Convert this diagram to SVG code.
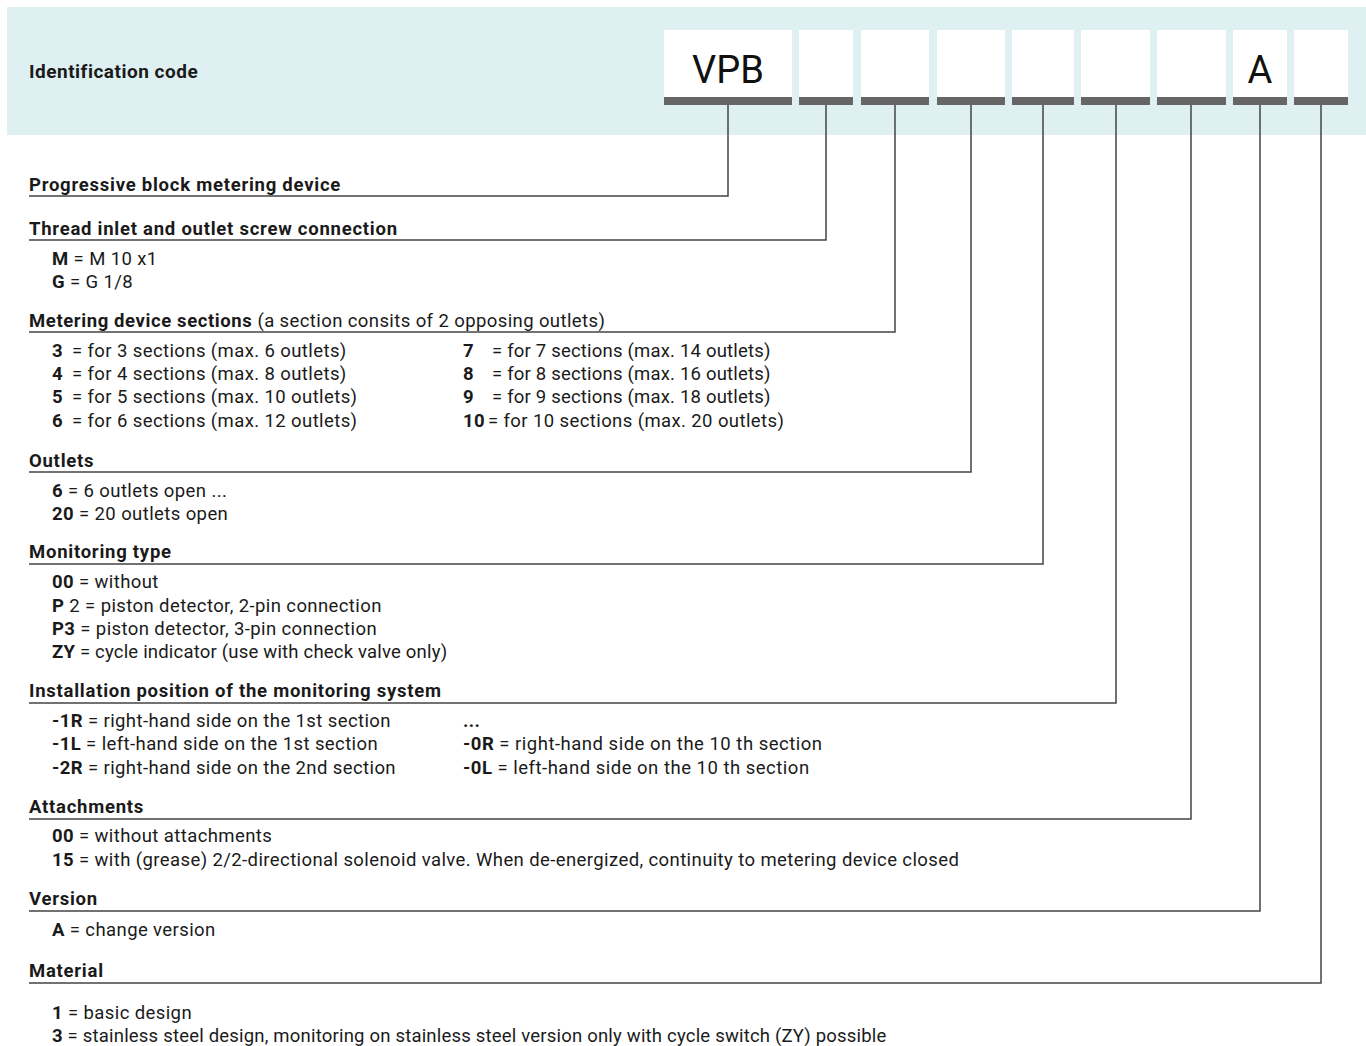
<svg xmlns="http://www.w3.org/2000/svg" width="1366" height="1046" viewBox="0 0 1366 1046">
<style>
text{font-family:Roboto,"Liberation Sans",sans-serif;fill:#1a1a1a;font-size:18.5px;letter-spacing:0.4px}
.h{font-weight:bold;letter-spacing:0.75px}
.b{font-weight:bold}
.n{letter-spacing:0.2px}
.box{fill:#fff}
.bar{fill:#666}
.con{fill:none;stroke:#444;stroke-width:1.5}
.code{font-size:38px;text-anchor:middle;fill:#111;letter-spacing:0}
</style>
<rect x="7" y="7" width="1359" height="128" fill="#dff0f2"/>
<text x="29" y="78" class="h" style="font-size:19px;letter-spacing:0.5px">Identification code</text>
<g id="box-vpb"><rect class="box" x="664" y="30" width="128" height="67"/><rect class="bar" x="664" y="97" width="128" height="8"/><text class="code" x="728" y="83">VPB</text></g>
<g id="box-2"><rect class="box" x="799" y="30" width="54" height="67"/><rect class="bar" x="799" y="97" width="54" height="8"/></g>
<g id="box-3"><rect class="box" x="861" y="30" width="68" height="67"/><rect class="bar" x="861" y="97" width="68" height="8"/></g>
<g id="box-4"><rect class="box" x="937" y="30" width="68" height="67"/><rect class="bar" x="937" y="97" width="68" height="8"/></g>
<g id="box-5"><rect class="box" x="1012" y="30" width="62" height="67"/><rect class="bar" x="1012" y="97" width="62" height="8"/></g>
<g id="box-6"><rect class="box" x="1081" y="30" width="69" height="67"/><rect class="bar" x="1081" y="97" width="69" height="8"/></g>
<g id="box-7"><rect class="box" x="1157" y="30" width="69" height="67"/><rect class="bar" x="1157" y="97" width="69" height="8"/></g>
<g id="box-a"><rect class="box" x="1233" y="30" width="54" height="67"/><rect class="bar" x="1233" y="97" width="54" height="8"/><text class="code" x="1260" y="83">A</text></g>
<g id="box-9"><rect class="box" x="1294" y="30" width="54" height="67"/><rect class="bar" x="1294" y="97" width="54" height="8"/></g>
<g id="connectors">
<path class="con" d="M728 105V196H29"/>
<path class="con" d="M826 105V240H29"/>
<path class="con" d="M895 105V332H29"/>
<path class="con" d="M971 105V472H29"/>
<path class="con" d="M1043 105V564H29"/>
<path class="con" d="M1116 105V703H29"/>
<path class="con" d="M1191 105V819H29"/>
<path class="con" d="M1260 105V911H29"/>
<path class="con" d="M1321 105V983H29"/>
</g>
<g id="sec-progressive"><text class="h" x="29" y="191">Progressive block metering device</text></g>
<g id="sec-thread">
<text class="h" x="29" y="235">Thread inlet and outlet screw connection</text>
<text x="52" y="265"><tspan class="b">M</tspan> = M 10 x1</text>
<text x="52" y="288"><tspan class="b">G</tspan> = G 1/8</text>
</g>
<g id="sec-sections">
<text x="29" y="327"><tspan class="b" style="letter-spacing:0.6px">Metering device sections</tspan> (a section consits of 2 opposing outlets)</text>
<text x="52" y="357"><tspan class="b">3</tspan><tspan x="72">= for 3 sections (max. 6 outlets)</tspan></text>
<text x="52" y="380"><tspan class="b">4</tspan><tspan x="72">= for 4 sections (max. 8 outlets)</tspan></text>
<text x="52" y="403"><tspan class="b">5</tspan><tspan x="72">= for 5 sections (max. 10 outlets)</tspan></text>
<text x="52" y="427"><tspan class="b">6</tspan><tspan x="72">= for 6 sections (max. 12 outlets)</tspan></text>
<text x="463" y="357" class="n"><tspan class="b">7</tspan><tspan x="492">= for 7 sections (max. 14 outlets)</tspan></text>
<text x="463" y="380" class="n"><tspan class="b">8</tspan><tspan x="492">= for 8 sections (max. 16 outlets)</tspan></text>
<text x="463" y="403" class="n"><tspan class="b">9</tspan><tspan x="492">= for 9 sections (max. 18 outlets)</tspan></text>
<text x="463" y="427"><tspan class="b">10</tspan><tspan x="488">= for 10 sections (max. 20 outlets)</tspan></text>
</g>
<g id="sec-outlets">
<text class="h" x="29" y="467">Outlets</text>
<text x="52" y="497"><tspan class="b">6</tspan> = 6 outlets open ...</text>
<text x="52" y="520"><tspan class="b">20</tspan> = 20 outlets open</text>
</g>
<g id="sec-monitoring">
<text class="h" x="29" y="558">Monitoring type</text>
<text x="52" y="588"><tspan class="b">00</tspan> = without</text>
<text x="52" y="612"><tspan class="b">P</tspan> 2 = piston detector, 2-pin connection</text>
<text x="52" y="635"><tspan class="b">P3</tspan> = piston detector, 3-pin connection</text>
<text x="52" y="658" class="n"><tspan class="b">ZY</tspan> = cycle indicator (use with check valve only)</text>
</g>
<g id="sec-installation">
<text class="h" x="29" y="697">Installation position of the monitoring system</text>
<text x="52" y="727"><tspan class="b">-1R</tspan> = right-hand side on the 1st section</text>
<text x="52" y="750"><tspan class="b">-1L</tspan> = left-hand side on the 1st section</text>
<text x="52" y="774"><tspan class="b">-2R</tspan> = right-hand side on the 2nd section</text>
<text x="463" y="727" class="b">...</text>
<text x="463" y="750" style="letter-spacing:0.5px"><tspan class="b">-0R</tspan> = right-hand side on the 10 th section</text>
<text x="463" y="774" style="letter-spacing:0.5px"><tspan class="b">-0L</tspan> = left-hand side on the 10 th section</text>
</g>
<g id="sec-attachments">
<text class="h" x="29" y="813">Attachments</text>
<text x="52" y="842"><tspan class="b">00</tspan> = without attachments</text>
<text x="52" y="866"><tspan class="b">15</tspan> = with (grease) 2/2-directional solenoid valve. When de-energized, continuity to metering device closed</text>
</g>
<g id="sec-version">
<text class="h" x="29" y="905">Version</text>
<text x="52" y="936"><tspan class="b">A</tspan> = change version</text>
</g>
<g id="sec-material">
<text class="h" x="29" y="977">Material</text>
<text x="52" y="1019"><tspan class="b">1</tspan> = basic design</text>
<text x="52" y="1042" class="n"><tspan class="b">3</tspan> = stainless steel design, monitoring on stainless steel version only with cycle switch (ZY) possible</text>
</g>
</svg>
